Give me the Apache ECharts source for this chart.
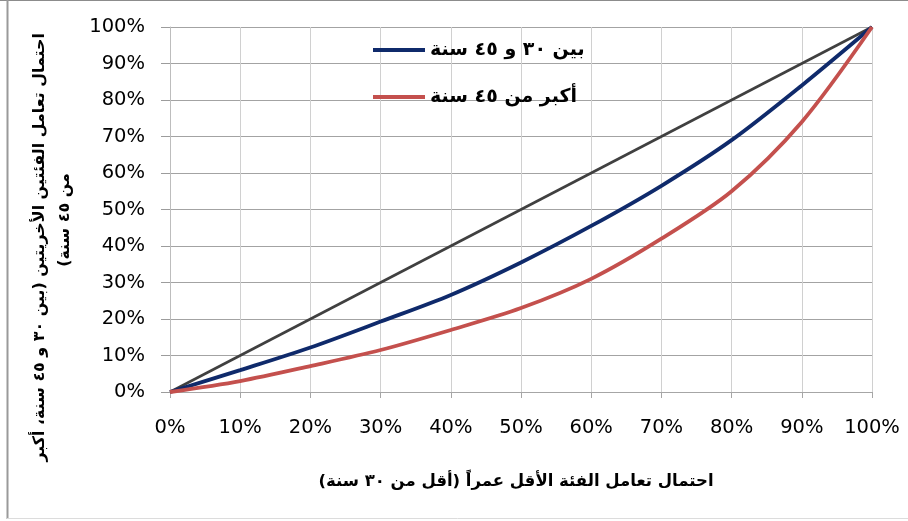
<!DOCTYPE html>
<html>
<head>
<meta charset="utf-8">
<script src="https://cdn.jsdelivr.net/npm/echarts@6/dist/echarts.min.js"></script>
<style>
  html, body { margin: 0; padding: 0; background: #ffffff; }
  #chart { width: 908px; height: 521px; }
</style>
</head>
<body>
<div id="chart"></div>
<script>
// Cumulative share of the youngest group (x) against the cumulative share of the two older groups (y)
const youngShare = [0, 0.1, 0.2, 0.3, 0.4, 0.5, 0.6, 0.7, 0.8, 0.9, 1.0];
const middleGroup = [0, 0.06, 0.122, 0.193, 0.266, 0.355, 0.455, 0.565, 0.69, 0.84, 1.0];
const olderGroup = [0, 0.03, 0.071, 0.115, 0.17, 0.23, 0.31, 0.42, 0.55, 0.74, 1.0];
const equalityLine = [0, 1.0];
const equalityX = [0, 1.0];

const RLM = '\u200F';
const seriesNames = ['بين ٣٠ و ٤٥ سنة', 'أكبر من ٤٥ سنة'];
const xTitle = 'احتمال تعامل الفئة الأقل عمراً (أقل من ٣٠ سنة)';
const yTitleLine1 = 'احتمال تعامل الفئتين الأخريتين (بين ٣٠ و ٤٥ سنة، أكبر';
const yTitleLine2 = 'من ٤٥ سنة)';

const pairs = (xs, ys) => xs.map((x, i) => [x, ys[i]]);
const pct = v => Math.round(v * 100) + '%';

const chart = echarts.init(document.getElementById('chart'), null, { renderer: 'canvas' });

const arabicFont = { fontFamily: 'DejaVu Sans', fontWeight: 'bold', fill: '#000000' };

chart.setOption({
  animation: false,
  backgroundColor: '#ffffff',
  grid: { left: 170, top: 27, right: 36, bottom: 129, containLabel: false },
  xAxis: {
    type: 'value', min: 0, max: 1, interval: 0.1,
    axisLine: { show: true, lineStyle: { color: '#a6a6a6', width: 1 } },
    axisTick: { show: true, length: 6, lineStyle: { color: '#a6a6a6' } },
    splitLine: { show: true, lineStyle: { color: '#d0d0d0', width: 1 } },
    axisLabel: {
      margin: 26, formatter: pct,
      fontFamily: 'DejaVu Sans', fontSize: 19.5, color: '#000000'
    }
  },
  yAxis: {
    type: 'value', min: 0, max: 1, interval: 0.1,
    axisLine: { show: true, lineStyle: { color: '#bdbdbd', width: 1 } },
    axisTick: { show: true, length: 9, lineStyle: { color: '#9c9c9c' } },
    splitLine: { show: true, lineStyle: { color: '#a3a3a3', width: 1 } },
    axisLabel: {
      margin: 25, formatter: pct,
      fontFamily: 'DejaVu Sans', fontSize: 19.5, color: '#000000'
    }
  },
  legend: {
    data: [
      { name: seriesNames[0] + RLM, icon: 'rect' },
      { name: seriesNames[1] + RLM, icon: 'rect' }
    ],
    orient: 'vertical',
    left: 368, top: 34,
    itemWidth: 52, itemHeight: 4, itemGap: 25, itemTextGap: 0,
    textStyle: { fontFamily: 'DejaVu Sans', fontWeight: 'bold', fontSize: 19, color: '#000000', lineHeight: 22 }
  },
  series: [
    {
      name: 'equality', type: 'line', data: pairs(equalityX, equalityLine),
      symbol: 'none', lineStyle: { color: '#404040', width: 2.6 }, z: 2
    },
    {
      name: seriesNames[0] + RLM, type: 'line', data: pairs(youngShare, middleGroup),
      smooth: 0.3, symbol: 'none', color: '#0f2a6b',
      lineStyle: { color: '#0f2a6b', width: 3.8 }, z: 3
    },
    {
      name: seriesNames[1] + RLM, type: 'line', data: pairs(youngShare, olderGroup),
      smooth: 0.3, symbol: 'none', color: '#c4504d',
      lineStyle: { color: '#c4504d', width: 3.8 }, z: 3
    }
  ],
  graphic: [
    { type: 'line', shape: { x1: 0, y1: 0.5, x2: 908, y2: 0.5 }, style: { stroke: '#8c8c8c', lineWidth: 1 } },
    { type: 'line', shape: { x1: 7.5, y1: 0, x2: 7.5, y2: 519 }, style: { stroke: '#9a9a9a', lineWidth: 2 } },
    { type: 'line', shape: { x1: 7, y1: 518.5, x2: 908, y2: 518.5 }, style: { stroke: '#dcdcdc', lineWidth: 1 } },
    {
      type: 'text', x: 516, y: 482,
      style: Object.assign({ text: RLM + xTitle + RLM, align: 'center', verticalAlign: 'middle', fontSize: 16.5 }, arabicFont)
    },
    {
      type: 'text', x: 40, y: 33, rotation: Math.PI / 2,
      style: Object.assign({ text: RLM + yTitleLine1, align: 'right', verticalAlign: 'middle', fontSize: 15.9 }, arabicFont)
    },
    {
      type: 'text', x: 65, y: 220, rotation: Math.PI / 2,
      style: Object.assign({ text: RLM + yTitleLine2 + RLM, align: 'center', verticalAlign: 'middle', fontSize: 15.9 }, arabicFont)
    }
  ]
});
</script>
</body>
</html>
